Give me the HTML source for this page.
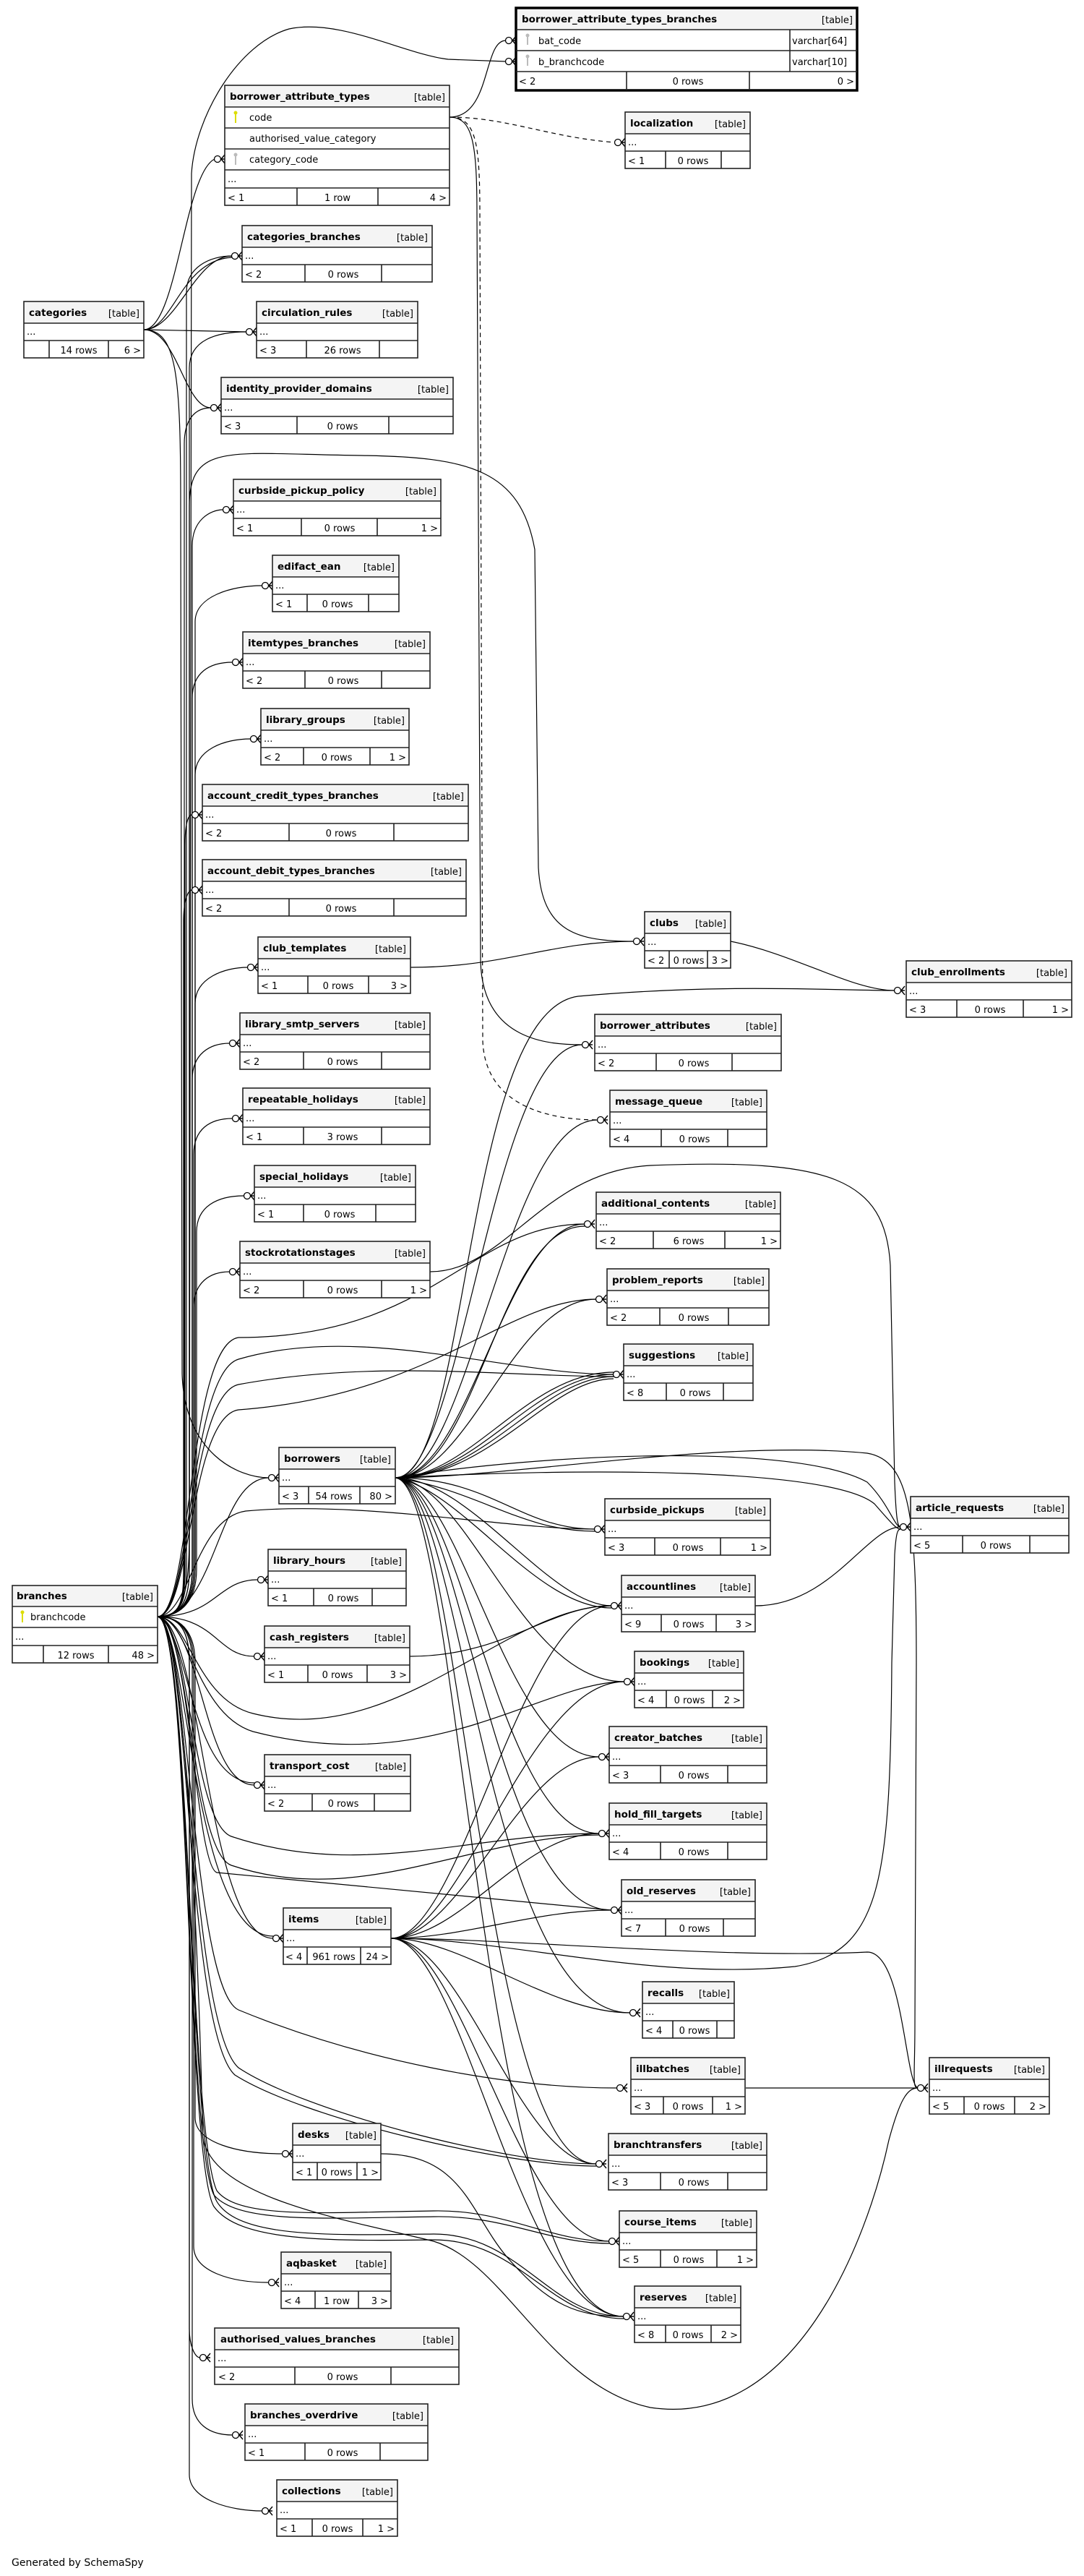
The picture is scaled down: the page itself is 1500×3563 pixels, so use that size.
<!DOCTYPE html>
<html><head><meta charset="utf-8">
<style>
html,body{margin:0;padding:0;background:#fff;}
svg{display:block;}
text{font-family:"DejaVu Sans","Liberation Sans",sans-serif;font-size:13px;fill:#000;}
.n{font-weight:bold;font-size:13.5px;}
.t{text-anchor:end;}
.m{text-anchor:middle;}
.b{fill:#fff;stroke:#222;stroke-width:1.6;}
.h{fill:#f4f4f4;stroke:none;}
.l{stroke:#222;stroke-width:1.6;}
.e{fill:none;stroke:#000;stroke-width:1.2;}
.d{fill:none;stroke:#000;stroke-width:1.2;stroke-dasharray:6,5;}
</style></head><body>
<svg width="1500" height="3563" viewBox="0 0 1500 3563" xmlns="http://www.w3.org/2000/svg">
<defs>
<g id="cf"><circle cx="-10" cy="0" r="4.5" fill="#fff" stroke="#000" stroke-width="1.3"/><path d="M-5 0 L0 -6 M-5 0 L0 0 M-5 0 L0 6" stroke="#000" stroke-width="1.4" fill="none"/></g>
</defs>

<!-- ===== EDGES ===== -->
<path class="e" d="M622 162 C 680 162, 668 56, 700 56"/>
<path class="d" d="M622 162 C 700 162, 760 190, 851 197"/>
<path class="e" d="M622 162 C 655 162, 660 200, 660 300 L 665 1330 C 668 1440, 760 1445, 806 1445"/>
<path class="d" d="M622 162 C 660 162, 664 200, 664 300 L 668 1440 C 672 1540, 780 1549, 827 1549"/>
<path class="e" d="M218 2236 C 250 2236, 262 2215, 262 2170 L 265 240 C 270 160, 330 60, 400 40 C 470 25, 560 75, 620 82 L 700 85"/>
<path class="e" d="M199 456 C 245 456, 255 240, 297 220"/>
<path class="e" d="M199 456 C 245 456, 270 354, 321 354"/>
<path class="e" d="M199 456 C 240 456, 250 360, 321 356"/>
<path class="e" d="M199 456 L 341 459"/>
<path class="e" d="M199 456 C 245 456, 255 564, 292 564"/>
<path class="e" d="M199 456 C 245 456, 250 520, 250 700 L 252 1900 C 255 2010, 330 2044, 372 2044"/>
<path class="e" d="M218 2236 C 250 2236, 258 2215, 258 2170 L 258 404 C 258 370, 290 354, 321 354"/>
<path class="e" d="M218 2236 C 250 2236, 262 2215, 262 2170 L 262 509 C 262 470, 300 459, 341 459"/>
<path class="e" d="M218 2236 C 250 2236, 255 2215, 255 2170 L 255 614 C 255 580, 270 564, 292 564"/>
<path class="e" d="M218 2236 C 250 2236, 266 2215, 266 2170 L 266 755 C 266 720, 290 705, 309 705"/>
<path class="e" d="M218 2236 C 250 2236, 270 2215, 270 2170 L 270 860 C 270 825, 320 810, 363 810"/>
<path class="e" d="M218 2236 C 250 2236, 266 2215, 266 2170 L 266 966 C 266 930, 290 916, 322 916"/>
<path class="e" d="M218 2236 C 250 2236, 270 2215, 270 2170 L 270 1072 C 270 1037, 310 1022, 347 1022"/>
<path class="e" d="M218 2236 C 250 2236, 256 2215, 256 2170 L 256 1170 C 256 1140, 260 1127, 266 1127"/>
<path class="e" d="M218 2236 C 250 2236, 254 2215, 254 2170 L 254 1275 C 254 1245, 260 1231, 266 1231"/>
<path class="e" d="M218 2236 C 250 2236, 270 2215, 270 2170 L 270 1388 C 270 1353, 310 1338, 343 1338"/>
<path class="e" d="M218 2236 C 250 2236, 266 2215, 266 2170 L 266 1493 C 266 1458, 290 1443, 318 1443"/>
<path class="e" d="M218 2236 C 250 2236, 268 2215, 268 2170 L 268 1597 C 268 1562, 290 1547, 322 1547"/>
<path class="e" d="M218 2236 C 250 2236, 272 2215, 272 2170 L 272 1704 C 272 1669, 300 1654, 338 1654"/>
<path class="e" d="M218 2236 C 250 2236, 268 2215, 268 2170 L 268 1809 C 268 1774, 290 1759, 318 1759"/>
<path class="e" d="M218 2236 C 300 2236, 300 2044, 372 2044"/>
<path class="e" d="M218 2236 C 300 2236, 300 2185, 357 2185"/>
<path class="e" d="M218 2236 C 300 2236, 300 2291, 352 2291"/>
<path class="e" d="M218 2236 C 280 2240, 280 2469, 352 2469"/>
<path class="e" d="M218 2236 C 262 2250, 262 2466, 352 2466"/>
<path class="e" d="M218 2236 C 280 2240, 285 2681, 378 2681"/>
<path class="e" d="M218 2236 C 262 2250, 265 2678, 378 2678"/>
<path class="e" d="M218 2236 C 250 2236, 270 2257, 270 2300 L 270 2929 C 270 2964, 330 2979, 391 2979"/>
<path class="e" d="M218 2236 C 250 2236, 268 2257, 268 2300 L 268 3107 C 268 3142, 320 3157, 372 3157"/>
<path class="e" d="M218 2236 C 250 2236, 262 2257, 262 2300 L 262 3221 C 262 3245, 270 3261, 277 3261"/>
<path class="e" d="M218 2236 C 250 2236, 266 2257, 266 2300 L 266 3318 C 266 3353, 290 3368, 322 3368"/>
<path class="e" d="M218 2236 C 250 2236, 262 2257, 262 2300 L 262 3423 C 262 3458, 320 3473, 363 3473"/>
<path class="e" d="M218 2236 C 250 2236, 262 2215, 262 2120 L 262 700 C 262 610, 320 628, 500 630 C 650 632, 720 650, 740 760 L 745 1200 C 750 1290, 800 1302, 877 1302"/>
<path class="e" d="M218 2236 C 265 2236, 262 1900, 330 1880 C 500 1830, 700 1901, 849 1901"/>
<path class="e" d="M218 2236 C 265 2236, 262 1930, 330 1915 C 520 1880, 700 1904, 849 1904"/>
<path class="e" d="M218 2236 C 265 2236, 260 1860, 330 1850 C 600 1850, 650 1693, 809 1693"/>
<path class="e" d="M218 2236 C 265 2236, 262 1960, 330 1950 C 600 1930, 700 1797, 825 1797"/>
<path class="e" d="M218 2236 C 262 2236, 270 2100, 340 2090 C 500 2075, 700 2115, 823 2115"/>
<path class="e" d="M218 2236 C 262 2236, 270 2350, 350 2370 C 550 2420, 700 2221, 846 2221"/>
<path class="e" d="M218 2236 C 262 2236, 270 2370, 350 2395 C 600 2460, 750 2326, 864 2326"/>
<path class="e" d="M218 2236 C 262 2236, 265 2520, 320 2540 C 500 2600, 650 2536, 829 2536"/>
<path class="e" d="M218 2236 C 262 2236, 265 2560, 320 2580 C 500 2640, 650 2540, 829 2538"/>
<path class="e" d="M218 2236 C 262 2236, 270 2580, 300 2590 L 846 2642"/>
<path class="e" d="M595 1759 C 700 1759, 750 1620, 900 1612 C 1150 1602, 1225 1630, 1232 1750 L 1238 2050 C 1240 2100, 1242 2112, 1246 2112"/>
<path class="e" d="M218 2236 C 262 2236, 265 2750, 330 2780 C 500 2850, 700 2888, 854 2888"/>
<path class="e" d="M218 2236 C 262 2236, 262 2800, 330 2860 C 420 2920, 700 2993, 825 2993"/>
<path class="e" d="M218 2236 C 262 2236, 258 2810, 325 2870 C 420 2930, 700 2996, 825 2996"/>
<path class="e" d="M218 2236 C 262 2236, 262 2950, 300 3030 C 330 3070, 450 3060, 600 3058 C 700 3056, 760 3100, 843 3100"/>
<path class="e" d="M218 2236 C 262 2236, 258 2960, 296 3036 C 330 3076, 450 3068, 600 3066 C 700 3064, 760 3103, 843 3103"/>
<path class="e" d="M218 2236 C 262 2236, 262 2980, 300 3045 C 330 3095, 450 3092, 600 3090 C 720 3090, 760 3204, 863 3204"/>
<path class="e" d="M218 2236 C 262 2236, 258 2990, 296 3052 C 330 3100, 450 3100, 600 3098 C 720 3098, 760 3207, 863 3207"/>
<path class="e" d="M218 2236 C 262 2236, 280 2880, 280 2950 C 285 3040, 480 3070, 600 3100 C 700 3130, 760 3300, 900 3330 C 1100 3360, 1200 3100, 1230 2960 C 1245 2905, 1255 2888, 1270 2888"/>
<path class="e" d="M547 2044 C 650 2044, 640 1400, 800 1378 C 1000 1360, 1150 1370, 1238 1370"/>
<path class="e" d="M547 2044 C 640 2044, 680 1445, 806 1445"/>
<path class="e" d="M547 2044 C 650 2044, 700 1549, 827 1549"/>
<path class="e" d="M547 2044 C 650 2044, 700 1693, 809 1693"/>
<path class="e" d="M547 2044 C 660 2044, 690 1696, 809 1696"/>
<path class="e" d="M547 2044 C 650 2044, 710 1797, 825 1797"/>
<path class="e" d="M547 2044 C 650 2044, 730 1898, 849 1898"/>
<path class="e" d="M547 2044 C 660 2044, 740 1901, 849 1901"/>
<path class="e" d="M547 2044 C 670 2044, 750 1904, 849 1904"/>
<path class="e" d="M547 2044 C 680 2044, 760 1907, 849 1907"/>
<path class="e" d="M547 2044 C 680 2044, 720 2115, 823 2115"/>
<path class="e" d="M547 2044 C 660 2060, 720 2118, 823 2118"/>
<path class="e" d="M547 2044 C 750 2010, 1100 1995, 1200 2050 C 1230 2080, 1238 2112, 1246 2112"/>
<path class="e" d="M547 2044 C 800 2030, 1150 2030, 1210 2080 C 1232 2105, 1240 2115, 1246 2115"/>
<path class="e" d="M547 2044 C 650 2044, 760 2221, 846 2221"/>
<path class="e" d="M547 2044 C 640 2060, 740 2224, 846 2224"/>
<path class="e" d="M547 2044 C 650 2050, 720 2326, 864 2326"/>
<path class="e" d="M547 2044 C 640 2050, 700 2430, 829 2430"/>
<path class="e" d="M547 2044 C 640 2050, 690 2536, 829 2536"/>
<path class="e" d="M547 2044 C 640 2050, 680 2642, 846 2642"/>
<path class="e" d="M547 2044 C 640 2050, 670 2784, 872 2784"/>
<path class="e" d="M547 2044 C 640 2050, 665 2993, 825 2993"/>
<path class="e" d="M547 2044 C 640 2050, 660 3204, 863 3204"/>
<path class="e" d="M547 2044 C 700 2044, 1000 1990, 1200 2010 C 1260 2020, 1268 2100, 1268 2300 L 1266 2800 C 1266 2870, 1262 2888, 1270 2888"/>
<path class="e" d="M541 2681 C 640 2681, 720 2221, 846 2221"/>
<path class="e" d="M541 2681 C 640 2681, 730 2326, 864 2326"/>
<path class="e" d="M541 2681 C 640 2681, 720 2430, 829 2430"/>
<path class="e" d="M541 2681 C 640 2681, 720 2536, 829 2536"/>
<path class="e" d="M541 2681 C 640 2681, 740 2642, 846 2642"/>
<path class="e" d="M541 2681 C 640 2681, 760 2784, 872 2784"/>
<path class="e" d="M541 2681 C 640 2681, 720 2993, 825 2993"/>
<path class="e" d="M541 2681 C 640 2681, 720 3100, 843 3100"/>
<path class="e" d="M541 2681 C 640 2681, 720 3204, 863 3204"/>
<path class="e" d="M541 2681 C 700 2681, 900 2740, 1100 2720 C 1220 2700, 1232 2600, 1234 2300 L 1238 2150 C 1240 2120, 1242 2115, 1246 2115"/>
<path class="e" d="M541 2681 C 700 2681, 1000 2710, 1200 2700 C 1250 2700, 1252 2880, 1270 2888"/>
<path class="e" d="M1011 1302 C 1100 1320, 1180 1370, 1238 1370"/>
<path class="e" d="M568 1338 C 700 1338, 760 1302, 877 1302"/>
<path class="e" d="M1045 2221 C 1150 2221, 1200 2112, 1246 2112"/>
<path class="e" d="M567 2291 C 700 2291, 760 2221, 846 2221"/>
<path class="e" d="M1032 2888 L 1270 2888"/>
<path class="e" d="M527 2979 C 640 2979, 650 3060, 700 3120 C 760 3190, 800 3204, 863 3204"/>

<use href="#cf" x="714" y="56"/><use href="#cf" x="714" y="85"/>
<use href="#cf" x="865" y="197"/><use href="#cf" x="311" y="220"/>
<use href="#cf" x="335" y="354"/><use href="#cf" x="355" y="459"/><use href="#cf" x="306" y="564"/>
<use href="#cf" x="323" y="705"/><use href="#cf" x="377" y="810"/><use href="#cf" x="336" y="916"/>
<use href="#cf" x="361" y="1022"/><use href="#cf" x="280" y="1127"/><use href="#cf" x="280" y="1231"/>
<use href="#cf" x="357" y="1338"/><use href="#cf" x="332" y="1443"/><use href="#cf" x="336" y="1547"/>
<use href="#cf" x="352" y="1654"/><use href="#cf" x="332" y="1759"/><use href="#cf" x="386" y="2044"/>
<use href="#cf" x="371" y="2185"/><use href="#cf" x="366" y="2291"/><use href="#cf" x="366" y="2469"/>
<use href="#cf" x="392" y="2681"/><use href="#cf" x="405" y="2979"/><use href="#cf" x="386" y="3157"/>
<use href="#cf" x="291" y="3261"/><use href="#cf" x="336" y="3368"/><use href="#cf" x="377" y="3473"/>
<use href="#cf" x="891" y="1302"/><use href="#cf" x="1252" y="1370"/><use href="#cf" x="820" y="1445"/>
<use href="#cf" x="841" y="1549"/><use href="#cf" x="823" y="1693"/><use href="#cf" x="839" y="1797"/>
<use href="#cf" x="863" y="1901"/><use href="#cf" x="837" y="2115"/><use href="#cf" x="1260" y="2112"/>
<use href="#cf" x="860" y="2221"/><use href="#cf" x="878" y="2326"/><use href="#cf" x="843" y="2430"/>
<use href="#cf" x="843" y="2536"/><use href="#cf" x="860" y="2642"/><use href="#cf" x="886" y="2784"/>
<use href="#cf" x="868" y="2888"/><use href="#cf" x="1284" y="2888"/><use href="#cf" x="839" y="2993"/>
<use href="#cf" x="857" y="3100"/><use href="#cf" x="877" y="3204"/>

<g>
<rect x="714" y="11" width="472" height="114" fill="#fff" stroke="#000" stroke-width="3.5"/>
<rect class="h" x="716" y="13" width="468" height="28"/>
<line class="l" x1="714" y1="41" x2="1186" y2="41"/><line class="l" x1="714" y1="70" x2="1186" y2="70"/><line class="l" x1="714" y1="99" x2="1186" y2="99"/>
<line class="l" x1="1093" y1="41" x2="1093" y2="99"/>
<line class="l" x1="867" y1="99" x2="867" y2="125"/><line class="l" x1="1037" y1="99" x2="1037" y2="125"/>
<text class="n" x="722" y="31">borrower_attribute_types_branches</text><text class="t" x="1180" y="32">[table]</text>
<rect x="729" y="50" width="2" height="12" fill="#bbb"/><circle cx="730" cy="49" r="2.5" fill="#bbb"/>
<rect x="729" y="79" width="2" height="12" fill="#bbb"/><circle cx="730" cy="78" r="2.5" fill="#bbb"/>
<text x="745" y="61">bat_code</text><text x="1096" y="61">varchar[64]</text>
<text x="745" y="90">b_branchcode</text><text x="1096" y="90">varchar[10]</text>
<text x="718" y="117">&lt; 2</text><text class="m" x="952" y="117">0 rows</text><text class="t" x="1182" y="117">0 &gt;</text>
</g>
<g>
<rect class="b" x="311" y="118" width="311" height="166"/>
<rect class="h" x="312" y="119" width="309" height="29"/>
<line class="l" x1="311" y1="148" x2="622" y2="148"/><line class="l" x1="311" y1="177" x2="622" y2="177"/><line class="l" x1="311" y1="206" x2="622" y2="206"/><line class="l" x1="311" y1="235" x2="622" y2="235"/><line class="l" x1="311" y1="260" x2="622" y2="260"/>
<line class="l" x1="411" y1="260" x2="411" y2="284"/><line class="l" x1="523" y1="260" x2="523" y2="284"/>
<text class="n" x="318" y="138">borrower_attribute_types</text><text class="t" x="616" y="139">[table]</text>
<rect x="325" y="157" width="2" height="13" fill="#dd0"/><circle cx="326" cy="156" r="2.5" fill="#dd0"/>
<rect x="325" y="215" width="2" height="13" fill="#bbb"/><circle cx="326" cy="214" r="2.5" fill="#bbb"/>
<text x="345" y="167">code</text><text x="345" y="196">authorised_value_category</text><text x="345" y="225">category_code</text>
<text x="315" y="252">...</text>
<text x="315" y="278">&lt; 1</text><text class="m" x="467" y="278">1 row</text><text class="t" x="618" y="278">4 &gt;</text>
</g>
<g>
<rect class="b" x="17" y="2193" width="201" height="107"/>
<rect class="h" x="18" y="2194" width="199" height="28"/>
<line class="l" x1="17" y1="2222" x2="218" y2="2222"/><line class="l" x1="17" y1="2251" x2="218" y2="2251"/><line class="l" x1="17" y1="2276" x2="218" y2="2276"/>
<line class="l" x1="60" y1="2276" x2="60" y2="2300"/><line class="l" x1="150" y1="2276" x2="150" y2="2300"/>
<text class="n" x="23" y="2212">branches</text><text class="t" x="212" y="2213">[table]</text>
<rect x="30" y="2231" width="2" height="13" fill="#dd0"/><circle cx="31" cy="2230" r="2.5" fill="#dd0"/>
<text x="42" y="2241">branchcode</text><text x="21" y="2268">...</text>
<text class="m" x="105" y="2294">12 rows</text><text class="t" x="214" y="2294">48 &gt;</text>
</g>
<g>
<rect class="b" x="33" y="417" width="166" height="78"/><rect class="h" x="34" y="418" width="164" height="29"/>
<line class="l" x1="33" y1="447" x2="199" y2="447"/><line class="l" x1="33" y1="471" x2="199" y2="471"/>
<line class="l" x1="68" y1="471" x2="68" y2="495"/><line class="l" x1="150" y1="471" x2="150" y2="495"/>
<text class="n" x="40" y="437">categories</text><text class="t" x="193" y="438">[table]</text>
<text x="37" y="463">...</text><text class="m" x="109" y="489">14 rows</text><text class="t" x="195" y="489">6 &gt;</text>
</g>
<g>
<rect class="b" x="865" y="155" width="173" height="78"/><rect class="h" x="866" y="156" width="171" height="29"/>
<line class="l" x1="865" y1="185" x2="1038" y2="185"/><line class="l" x1="865" y1="209" x2="1038" y2="209"/>
<line class="l" x1="921" y1="209" x2="921" y2="233"/><line class="l" x1="998" y1="209" x2="998" y2="233"/>
<text class="n" x="872" y="175">localization</text><text class="t" x="1032" y="176">[table]</text>
<text x="869" y="201">...</text><text x="869" y="227">&lt; 1</text><text class="m" x="959" y="227">0 rows</text>
</g>

<g>
<rect class="b" x="335" y="312" width="263" height="78"/><rect class="h" x="336" y="313" width="261" height="29"/>
<line class="l" x1="335" y1="342" x2="598" y2="342"/><line class="l" x1="335" y1="366" x2="598" y2="366"/>
<line class="l" x1="422" y1="366" x2="422" y2="390"/><line class="l" x1="528" y1="366" x2="528" y2="390"/>
<text class="n" x="342" y="332">categories_branches</text><text class="t" x="592" y="333">[table]</text>
<text x="339" y="358">...</text><text x="339" y="384">&lt; 2</text><text class="m" x="475" y="384">0 rows</text>
</g>
<g>
<rect class="b" x="355" y="417" width="223" height="78"/><rect class="h" x="356" y="418" width="221" height="29"/>
<line class="l" x1="355" y1="447" x2="578" y2="447"/><line class="l" x1="355" y1="471" x2="578" y2="471"/>
<line class="l" x1="424" y1="471" x2="424" y2="495"/><line class="l" x1="525" y1="471" x2="525" y2="495"/>
<text class="n" x="362" y="437">circulation_rules</text><text class="t" x="572" y="438">[table]</text>
<text x="359" y="463">...</text><text x="359" y="489">&lt; 3</text><text class="m" x="474" y="489">26 rows</text>
</g>
<g>
<rect class="b" x="306" y="522" width="321" height="78"/><rect class="h" x="307" y="523" width="319" height="29"/>
<line class="l" x1="306" y1="552" x2="627" y2="552"/><line class="l" x1="306" y1="576" x2="627" y2="576"/>
<line class="l" x1="411" y1="576" x2="411" y2="600"/><line class="l" x1="538" y1="576" x2="538" y2="600"/>
<text class="n" x="313" y="542">identity_provider_domains</text><text class="t" x="621" y="543">[table]</text>
<text x="310" y="568">...</text><text x="310" y="594">&lt; 3</text><text class="m" x="474" y="594">0 rows</text>
</g>
<g>
<rect class="b" x="323" y="663" width="287" height="78"/><rect class="h" x="324" y="664" width="285" height="29"/>
<line class="l" x1="323" y1="693" x2="610" y2="693"/><line class="l" x1="323" y1="717" x2="610" y2="717"/>
<line class="l" x1="417" y1="717" x2="417" y2="741"/><line class="l" x1="522" y1="717" x2="522" y2="741"/>
<text class="n" x="330" y="683">curbside_pickup_policy</text><text class="t" x="604" y="684">[table]</text>
<text x="327" y="709">...</text><text x="327" y="735">&lt; 1</text><text class="m" x="470" y="735">0 rows</text><text class="t" x="606" y="735">1 &gt;</text>
</g>
<g>
<rect class="b" x="377" y="768" width="175" height="78"/><rect class="h" x="378" y="769" width="173" height="29"/>
<line class="l" x1="377" y1="798" x2="552" y2="798"/><line class="l" x1="377" y1="822" x2="552" y2="822"/>
<line class="l" x1="425" y1="822" x2="425" y2="846"/><line class="l" x1="510" y1="822" x2="510" y2="846"/>
<text class="n" x="384" y="788">edifact_ean</text><text class="t" x="546" y="789">[table]</text>
<text x="381" y="814">...</text><text x="381" y="840">&lt; 1</text><text class="m" x="467" y="840">0 rows</text>
</g>
<g>
<rect class="b" x="336" y="874" width="259" height="78"/><rect class="h" x="337" y="875" width="257" height="29"/>
<line class="l" x1="336" y1="904" x2="595" y2="904"/><line class="l" x1="336" y1="928" x2="595" y2="928"/>
<line class="l" x1="422" y1="928" x2="422" y2="952"/><line class="l" x1="528" y1="928" x2="528" y2="952"/>
<text class="n" x="343" y="894">itemtypes_branches</text><text class="t" x="589" y="895">[table]</text>
<text x="340" y="920">...</text><text x="340" y="946">&lt; 2</text><text class="m" x="475" y="946">0 rows</text>
</g>
<g>
<rect class="b" x="361" y="980" width="205" height="78"/><rect class="h" x="362" y="981" width="203" height="29"/>
<line class="l" x1="361" y1="1010" x2="566" y2="1010"/><line class="l" x1="361" y1="1034" x2="566" y2="1034"/>
<line class="l" x1="420" y1="1034" x2="420" y2="1058"/><line class="l" x1="512" y1="1034" x2="512" y2="1058"/>
<text class="n" x="368" y="1000">library_groups</text><text class="t" x="560" y="1001">[table]</text>
<text x="365" y="1026">...</text><text x="365" y="1052">&lt; 2</text><text class="m" x="466" y="1052">0 rows</text><text class="t" x="562" y="1052">1 &gt;</text>
</g>
<g>
<rect class="b" x="280" y="1085" width="368" height="78"/><rect class="h" x="281" y="1086" width="366" height="29"/>
<line class="l" x1="280" y1="1115" x2="648" y2="1115"/><line class="l" x1="280" y1="1139" x2="648" y2="1139"/>
<line class="l" x1="400" y1="1139" x2="400" y2="1163"/><line class="l" x1="545" y1="1139" x2="545" y2="1163"/>
<text class="n" x="287" y="1105">account_credit_types_branches</text><text class="t" x="642" y="1106">[table]</text>
<text x="284" y="1131">...</text><text x="284" y="1157">&lt; 2</text><text class="m" x="472" y="1157">0 rows</text>
</g>
<g>
<rect class="b" x="280" y="1189" width="365" height="78"/><rect class="h" x="281" y="1190" width="363" height="29"/>
<line class="l" x1="280" y1="1219" x2="645" y2="1219"/><line class="l" x1="280" y1="1243" x2="645" y2="1243"/>
<line class="l" x1="400" y1="1243" x2="400" y2="1267"/><line class="l" x1="545" y1="1243" x2="545" y2="1267"/>
<text class="n" x="287" y="1209">account_debit_types_branches</text><text class="t" x="639" y="1210">[table]</text>
<text x="284" y="1235">...</text><text x="284" y="1261">&lt; 2</text><text class="m" x="472" y="1261">0 rows</text>
</g>
<g>
<rect class="b" x="357" y="1296" width="211" height="78"/><rect class="h" x="358" y="1297" width="209" height="29"/>
<line class="l" x1="357" y1="1326" x2="568" y2="1326"/><line class="l" x1="357" y1="1350" x2="568" y2="1350"/>
<line class="l" x1="426" y1="1350" x2="426" y2="1374"/><line class="l" x1="510" y1="1350" x2="510" y2="1374"/>
<text class="n" x="364" y="1316">club_templates</text><text class="t" x="562" y="1317">[table]</text>
<text x="361" y="1342">...</text><text x="361" y="1368">&lt; 1</text><text class="m" x="468" y="1368">0 rows</text><text class="t" x="564" y="1368">3 &gt;</text>
</g>
<g>
<rect class="b" x="332" y="1401" width="263" height="78"/><rect class="h" x="333" y="1402" width="261" height="29"/>
<line class="l" x1="332" y1="1431" x2="595" y2="1431"/><line class="l" x1="332" y1="1455" x2="595" y2="1455"/>
<line class="l" x1="420" y1="1455" x2="420" y2="1479"/><line class="l" x1="528" y1="1455" x2="528" y2="1479"/>
<text class="n" x="339" y="1421">library_smtp_servers</text><text class="t" x="589" y="1422">[table]</text>
<text x="336" y="1447">...</text><text x="336" y="1473">&lt; 2</text><text class="m" x="474" y="1473">0 rows</text>
</g>
<g>
<rect class="b" x="336" y="1505" width="259" height="78"/><rect class="h" x="337" y="1506" width="257" height="29"/>
<line class="l" x1="336" y1="1535" x2="595" y2="1535"/><line class="l" x1="336" y1="1559" x2="595" y2="1559"/>
<line class="l" x1="420" y1="1559" x2="420" y2="1583"/><line class="l" x1="528" y1="1559" x2="528" y2="1583"/>
<text class="n" x="343" y="1525">repeatable_holidays</text><text class="t" x="589" y="1526">[table]</text>
<text x="340" y="1551">...</text><text x="340" y="1577">&lt; 1</text><text class="m" x="474" y="1577">3 rows</text>
</g>
<g>
<rect class="b" x="352" y="1612" width="223" height="78"/><rect class="h" x="353" y="1613" width="221" height="29"/>
<line class="l" x1="352" y1="1642" x2="575" y2="1642"/><line class="l" x1="352" y1="1666" x2="575" y2="1666"/>
<line class="l" x1="420" y1="1666" x2="420" y2="1690"/><line class="l" x1="520" y1="1666" x2="520" y2="1690"/>
<text class="n" x="359" y="1632">special_holidays</text><text class="t" x="569" y="1633">[table]</text>
<text x="356" y="1658">...</text><text x="356" y="1684">&lt; 1</text><text class="m" x="470" y="1684">0 rows</text>
</g>
<g>
<rect class="b" x="332" y="1717" width="263" height="78"/><rect class="h" x="333" y="1718" width="261" height="29"/>
<line class="l" x1="332" y1="1747" x2="595" y2="1747"/><line class="l" x1="332" y1="1771" x2="595" y2="1771"/>
<line class="l" x1="420" y1="1771" x2="420" y2="1795"/><line class="l" x1="528" y1="1771" x2="528" y2="1795"/>
<text class="n" x="339" y="1737">stockrotationstages</text><text class="t" x="589" y="1738">[table]</text>
<text x="336" y="1763">...</text><text x="336" y="1789">&lt; 2</text><text class="m" x="474" y="1789">0 rows</text><text class="t" x="591" y="1789">1 &gt;</text>
</g>
<g>
<rect class="b" x="386" y="2002" width="161" height="78"/><rect class="h" x="387" y="2003" width="159" height="29"/>
<line class="l" x1="386" y1="2032" x2="547" y2="2032"/><line class="l" x1="386" y1="2056" x2="547" y2="2056"/>
<line class="l" x1="427" y1="2056" x2="427" y2="2080"/><line class="l" x1="498" y1="2056" x2="498" y2="2080"/>
<text class="n" x="393" y="2022">borrowers</text><text class="t" x="541" y="2023">[table]</text>
<text x="390" y="2048">...</text><text x="390" y="2074">&lt; 3</text><text class="m" x="462" y="2074">54 rows</text><text class="t" x="543" y="2074">80 &gt;</text>
</g>
<g>
<rect class="b" x="371" y="2143" width="191" height="78"/><rect class="h" x="372" y="2144" width="189" height="29"/>
<line class="l" x1="371" y1="2173" x2="562" y2="2173"/><line class="l" x1="371" y1="2197" x2="562" y2="2197"/>
<line class="l" x1="434" y1="2197" x2="434" y2="2221"/><line class="l" x1="515" y1="2197" x2="515" y2="2221"/>
<text class="n" x="378" y="2163">library_hours</text><text class="t" x="556" y="2164">[table]</text>
<text x="375" y="2189">...</text><text x="375" y="2215">&lt; 1</text><text class="m" x="475" y="2215">0 rows</text>
</g>
<g>
<rect class="b" x="366" y="2249" width="201" height="78"/><rect class="h" x="367" y="2250" width="199" height="29"/>
<line class="l" x1="366" y1="2279" x2="567" y2="2279"/><line class="l" x1="366" y1="2303" x2="567" y2="2303"/>
<line class="l" x1="426" y1="2303" x2="426" y2="2327"/><line class="l" x1="508" y1="2303" x2="508" y2="2327"/>
<text class="n" x="373" y="2269">cash_registers</text><text class="t" x="561" y="2270">[table]</text>
<text x="370" y="2295">...</text><text x="370" y="2321">&lt; 1</text><text class="m" x="467" y="2321">0 rows</text><text class="t" x="563" y="2321">3 &gt;</text>
</g>
<g>
<rect class="b" x="366" y="2427" width="202" height="78"/><rect class="h" x="367" y="2428" width="200" height="29"/>
<line class="l" x1="366" y1="2457" x2="568" y2="2457"/><line class="l" x1="366" y1="2481" x2="568" y2="2481"/>
<line class="l" x1="432" y1="2481" x2="432" y2="2505"/><line class="l" x1="518" y1="2481" x2="518" y2="2505"/>
<text class="n" x="373" y="2447">transport_cost</text><text class="t" x="562" y="2448">[table]</text>
<text x="370" y="2473">...</text><text x="370" y="2499">&lt; 2</text><text class="m" x="475" y="2499">0 rows</text>
</g>
<g>
<rect class="b" x="392" y="2639" width="149" height="78"/><rect class="h" x="393" y="2640" width="147" height="29"/>
<line class="l" x1="392" y1="2669" x2="541" y2="2669"/><line class="l" x1="392" y1="2693" x2="541" y2="2693"/>
<line class="l" x1="425" y1="2693" x2="425" y2="2717"/><line class="l" x1="499" y1="2693" x2="499" y2="2717"/>
<text class="n" x="399" y="2659">items</text><text class="t" x="535" y="2660">[table]</text>
<text x="396" y="2685">...</text><text x="395" y="2711">&lt; 4</text><text class="m" x="462" y="2711">961 rows</text><text class="t" x="538" y="2711">24 &gt;</text>
</g>
<g>
<rect class="b" x="405" y="2937" width="122" height="78"/><rect class="h" x="406" y="2938" width="120" height="29"/>
<line class="l" x1="405" y1="2967" x2="527" y2="2967"/><line class="l" x1="405" y1="2991" x2="527" y2="2991"/>
<line class="l" x1="439" y1="2991" x2="439" y2="3015"/><line class="l" x1="494" y1="2991" x2="494" y2="3015"/>
<text class="n" x="412" y="2957">desks</text><text class="t" x="521" y="2958">[table]</text>
<text x="409" y="2983">...</text><text x="409" y="3009">&lt; 1</text><text class="m" x="466" y="3009">0 rows</text><text class="t" x="524" y="3009">1 &gt;</text>
</g>
<g>
<rect class="b" x="389" y="3115" width="152" height="78"/><rect class="h" x="390" y="3116" width="150" height="29"/>
<line class="l" x1="389" y1="3145" x2="541" y2="3145"/><line class="l" x1="389" y1="3169" x2="541" y2="3169"/>
<line class="l" x1="436" y1="3169" x2="436" y2="3193"/><line class="l" x1="496" y1="3169" x2="496" y2="3193"/>
<text class="n" x="396" y="3135">aqbasket</text><text class="t" x="535" y="3136">[table]</text>
<text x="393" y="3161">...</text><text x="393" y="3187">&lt; 4</text><text class="m" x="466" y="3187">1 row</text><text class="t" x="537" y="3187">3 &gt;</text>
</g>
<g>
<rect class="b" x="297" y="3220" width="338" height="78"/><rect class="h" x="298" y="3221" width="336" height="29"/>
<line class="l" x1="297" y1="3250" x2="635" y2="3250"/><line class="l" x1="297" y1="3274" x2="635" y2="3274"/>
<line class="l" x1="408" y1="3274" x2="408" y2="3298"/><line class="l" x1="541" y1="3274" x2="541" y2="3298"/>
<text class="n" x="305" y="3240">authorised_values_branches</text><text class="t" x="628" y="3241">[table]</text>
<text x="301" y="3266">...</text><text x="302" y="3292">&lt; 2</text><text class="m" x="474" y="3292">0 rows</text>
</g>
<g>
<rect class="b" x="339" y="3325" width="253" height="78"/><rect class="h" x="340" y="3326" width="251" height="29"/>
<line class="l" x1="339" y1="3355" x2="592" y2="3355"/><line class="l" x1="339" y1="3379" x2="592" y2="3379"/>
<line class="l" x1="422" y1="3379" x2="422" y2="3403"/><line class="l" x1="526" y1="3379" x2="526" y2="3403"/>
<text class="n" x="346" y="3345">branches_overdrive</text><text class="t" x="586" y="3346">[table]</text>
<text x="343" y="3371">...</text><text x="343" y="3397">&lt; 1</text><text class="m" x="474" y="3397">0 rows</text>
</g>
<g>
<rect class="b" x="383" y="3430" width="167" height="78"/><rect class="h" x="384" y="3431" width="165" height="29"/>
<line class="l" x1="383" y1="3460" x2="550" y2="3460"/><line class="l" x1="383" y1="3484" x2="550" y2="3484"/>
<line class="l" x1="432" y1="3484" x2="432" y2="3508"/><line class="l" x1="502" y1="3484" x2="502" y2="3508"/>
<text class="n" x="390" y="3450">collections</text><text class="t" x="544" y="3451">[table]</text>
<text x="387" y="3476">...</text><text x="387" y="3502">&lt; 1</text><text class="m" x="467" y="3502">0 rows</text><text class="t" x="546" y="3502">1 &gt;</text>
</g>

<g>
<rect class="b" x="892" y="1261" width="119" height="78"/><rect class="h" x="893" y="1262" width="117" height="29"/>
<line class="l" x1="892" y1="1291" x2="1011" y2="1291"/><line class="l" x1="892" y1="1315" x2="1011" y2="1315"/>
<line class="l" x1="926" y1="1315" x2="926" y2="1339"/><line class="l" x1="979" y1="1315" x2="979" y2="1339"/>
<text class="n" x="899" y="1281">clubs</text><text class="t" x="1005" y="1282">[table]</text>
<text x="896" y="1307">...</text><text x="896" y="1333">&lt; 2</text><text class="m" x="953" y="1333">0 rows</text><text class="t" x="1008" y="1333">3 &gt;</text>
</g>
<g>
<rect class="b" x="1254" y="1329" width="229" height="78"/><rect class="h" x="1255" y="1330" width="227" height="29"/>
<line class="l" x1="1254" y1="1359" x2="1483" y2="1359"/><line class="l" x1="1254" y1="1383" x2="1483" y2="1383"/>
<line class="l" x1="1324" y1="1383" x2="1324" y2="1407"/><line class="l" x1="1416" y1="1383" x2="1416" y2="1407"/>
<text class="n" x="1261" y="1349">club_enrollments</text><text class="t" x="1477" y="1350">[table]</text>
<text x="1258" y="1375">...</text><text x="1258" y="1401">&lt; 3</text><text class="m" x="1370" y="1401">0 rows</text><text class="t" x="1479" y="1401">1 &gt;</text>
</g>
<g>
<rect class="b" x="823" y="1403" width="258" height="78"/><rect class="h" x="824" y="1404" width="256" height="29"/>
<line class="l" x1="823" y1="1433" x2="1081" y2="1433"/><line class="l" x1="823" y1="1457" x2="1081" y2="1457"/>
<line class="l" x1="908" y1="1457" x2="908" y2="1481"/><line class="l" x1="1013" y1="1457" x2="1013" y2="1481"/>
<text class="n" x="830" y="1423">borrower_attributes</text><text class="t" x="1075" y="1424">[table]</text>
<text x="827" y="1449">...</text><text x="827" y="1475">&lt; 2</text><text class="m" x="960" y="1475">0 rows</text>
</g>
<g>
<rect class="b" x="844" y="1508" width="217" height="78"/><rect class="h" x="845" y="1509" width="215" height="29"/>
<line class="l" x1="844" y1="1538" x2="1061" y2="1538"/><line class="l" x1="844" y1="1562" x2="1061" y2="1562"/>
<line class="l" x1="915" y1="1562" x2="915" y2="1586"/><line class="l" x1="1007" y1="1562" x2="1007" y2="1586"/>
<text class="n" x="851" y="1528">message_queue</text><text class="t" x="1055" y="1529">[table]</text>
<text x="848" y="1554">...</text><text x="848" y="1580">&lt; 4</text><text class="m" x="961" y="1580">0 rows</text>
</g>
<g>
<rect class="b" x="825" y="1649" width="255" height="78"/><rect class="h" x="826" y="1650" width="253" height="29"/>
<line class="l" x1="825" y1="1679" x2="1080" y2="1679"/><line class="l" x1="825" y1="1703" x2="1080" y2="1703"/>
<line class="l" x1="904" y1="1703" x2="904" y2="1727"/><line class="l" x1="1003" y1="1703" x2="1003" y2="1727"/>
<text class="n" x="832" y="1669">additional_contents</text><text class="t" x="1074" y="1670">[table]</text>
<text x="829" y="1695">...</text><text x="829" y="1721">&lt; 2</text><text class="m" x="953" y="1721">6 rows</text><text class="t" x="1076" y="1721">1 &gt;</text>
</g>
<g>
<rect class="b" x="840" y="1755" width="224" height="78"/><rect class="h" x="841" y="1756" width="222" height="29"/>
<line class="l" x1="840" y1="1785" x2="1064" y2="1785"/><line class="l" x1="840" y1="1809" x2="1064" y2="1809"/>
<line class="l" x1="913" y1="1809" x2="913" y2="1833"/><line class="l" x1="1008" y1="1809" x2="1008" y2="1833"/>
<text class="n" x="847" y="1775">problem_reports</text><text class="t" x="1058" y="1776">[table]</text>
<text x="844" y="1801">...</text><text x="844" y="1827">&lt; 2</text><text class="m" x="960" y="1827">0 rows</text>
</g>
<g>
<rect class="b" x="863" y="1859" width="179" height="78"/><rect class="h" x="864" y="1860" width="177" height="29"/>
<line class="l" x1="863" y1="1889" x2="1042" y2="1889"/><line class="l" x1="863" y1="1913" x2="1042" y2="1913"/>
<line class="l" x1="922" y1="1913" x2="922" y2="1937"/><line class="l" x1="1001" y1="1913" x2="1001" y2="1937"/>
<text class="n" x="870" y="1879">suggestions</text><text class="t" x="1036" y="1880">[table]</text>
<text x="867" y="1905">...</text><text x="867" y="1931">&lt; 8</text><text class="m" x="962" y="1931">0 rows</text>
</g>
<g>
<rect class="b" x="837" y="2073" width="229" height="78"/><rect class="h" x="838" y="2074" width="227" height="29"/>
<line class="l" x1="837" y1="2103" x2="1066" y2="2103"/><line class="l" x1="837" y1="2127" x2="1066" y2="2127"/>
<line class="l" x1="906" y1="2127" x2="906" y2="2151"/><line class="l" x1="997" y1="2127" x2="997" y2="2151"/>
<text class="n" x="844" y="2093">curbside_pickups</text><text class="t" x="1060" y="2094">[table]</text>
<text x="841" y="2119">...</text><text x="841" y="2145">&lt; 3</text><text class="m" x="952" y="2145">0 rows</text><text class="t" x="1062" y="2145">1 &gt;</text>
</g>
<g>
<rect class="b" x="1260" y="2070" width="219" height="78"/><rect class="h" x="1261" y="2071" width="217" height="29"/>
<line class="l" x1="1260" y1="2100" x2="1479" y2="2100"/><line class="l" x1="1260" y1="2124" x2="1479" y2="2124"/>
<line class="l" x1="1332" y1="2124" x2="1332" y2="2148"/><line class="l" x1="1425" y1="2124" x2="1425" y2="2148"/>
<text class="n" x="1267" y="2090">article_requests</text><text class="t" x="1473" y="2091">[table]</text>
<text x="1264" y="2116">...</text><text x="1264" y="2142">&lt; 5</text><text class="m" x="1378" y="2142">0 rows</text>
</g>
<g>
<rect class="b" x="860" y="2179" width="185" height="78"/><rect class="h" x="861" y="2180" width="183" height="29"/>
<line class="l" x1="860" y1="2209" x2="1045" y2="2209"/><line class="l" x1="860" y1="2233" x2="1045" y2="2233"/>
<line class="l" x1="915" y1="2233" x2="915" y2="2257"/><line class="l" x1="991" y1="2233" x2="991" y2="2257"/>
<text class="n" x="867" y="2199">accountlines</text><text class="t" x="1039" y="2200">[table]</text>
<text x="864" y="2225">...</text><text x="864" y="2251">&lt; 9</text><text class="m" x="953" y="2251">0 rows</text><text class="t" x="1041" y="2251">3 &gt;</text>
</g>
<g>
<rect class="b" x="878" y="2284" width="151" height="78"/><rect class="h" x="879" y="2285" width="149" height="29"/>
<line class="l" x1="878" y1="2314" x2="1029" y2="2314"/><line class="l" x1="878" y1="2338" x2="1029" y2="2338"/>
<line class="l" x1="922" y1="2338" x2="922" y2="2362"/><line class="l" x1="986" y1="2338" x2="986" y2="2362"/>
<text class="n" x="885" y="2304">bookings</text><text class="t" x="1023" y="2305">[table]</text>
<text x="882" y="2330">...</text><text x="882" y="2356">&lt; 4</text><text class="m" x="954" y="2356">0 rows</text><text class="t" x="1025" y="2356">2 &gt;</text>
</g>
<g>
<rect class="b" x="843" y="2388" width="218" height="78"/><rect class="h" x="844" y="2389" width="216" height="29"/>
<line class="l" x1="843" y1="2418" x2="1061" y2="2418"/><line class="l" x1="843" y1="2442" x2="1061" y2="2442"/>
<line class="l" x1="914" y1="2442" x2="914" y2="2466"/><line class="l" x1="1007" y1="2442" x2="1007" y2="2466"/>
<text class="n" x="850" y="2408">creator_batches</text><text class="t" x="1055" y="2409">[table]</text>
<text x="847" y="2434">...</text><text x="847" y="2460">&lt; 3</text><text class="m" x="960" y="2460">0 rows</text>
</g>
<g>
<rect class="b" x="843" y="2494" width="218" height="78"/><rect class="h" x="844" y="2495" width="216" height="29"/>
<line class="l" x1="843" y1="2524" x2="1061" y2="2524"/><line class="l" x1="843" y1="2548" x2="1061" y2="2548"/>
<line class="l" x1="914" y1="2548" x2="914" y2="2572"/><line class="l" x1="1007" y1="2548" x2="1007" y2="2572"/>
<text class="n" x="850" y="2514">hold_fill_targets</text><text class="t" x="1055" y="2515">[table]</text>
<text x="847" y="2540">...</text><text x="847" y="2566">&lt; 4</text><text class="m" x="960" y="2566">0 rows</text>
</g>
<g>
<rect class="b" x="860" y="2600" width="185" height="78"/><rect class="h" x="861" y="2601" width="183" height="29"/>
<line class="l" x1="860" y1="2630" x2="1045" y2="2630"/><line class="l" x1="860" y1="2654" x2="1045" y2="2654"/>
<line class="l" x1="921" y1="2654" x2="921" y2="2678"/><line class="l" x1="1001" y1="2654" x2="1001" y2="2678"/>
<text class="n" x="867" y="2620">old_reserves</text><text class="t" x="1039" y="2621">[table]</text>
<text x="864" y="2646">...</text><text x="864" y="2672">&lt; 7</text><text class="m" x="961" y="2672">0 rows</text>
</g>
<g>
<rect class="b" x="889" y="2741" width="127" height="78"/><rect class="h" x="890" y="2742" width="125" height="29"/>
<line class="l" x1="889" y1="2771" x2="1016" y2="2771"/><line class="l" x1="889" y1="2795" x2="1016" y2="2795"/>
<line class="l" x1="931" y1="2795" x2="931" y2="2819"/><line class="l" x1="992" y1="2795" x2="992" y2="2819"/>
<text class="n" x="896" y="2761">recalls</text><text class="t" x="1010" y="2762">[table]</text>
<text x="893" y="2787">...</text><text x="893" y="2813">&lt; 4</text><text class="m" x="961" y="2813">0 rows</text>
</g>
<g>
<rect class="b" x="873" y="2846" width="158" height="78"/><rect class="h" x="874" y="2847" width="156" height="29"/>
<line class="l" x1="873" y1="2876" x2="1031" y2="2876"/><line class="l" x1="873" y1="2900" x2="1031" y2="2900"/>
<line class="l" x1="918" y1="2900" x2="918" y2="2924"/><line class="l" x1="986" y1="2900" x2="986" y2="2924"/>
<text class="n" x="880" y="2866">illbatches</text><text class="t" x="1025" y="2867">[table]</text>
<text x="877" y="2892">...</text><text x="877" y="2918">&lt; 3</text><text class="m" x="952" y="2918">0 rows</text><text class="t" x="1027" y="2918">1 &gt;</text>
</g>
<g>
<rect class="b" x="1286" y="2846" width="166" height="78"/><rect class="h" x="1287" y="2847" width="164" height="29"/>
<line class="l" x1="1286" y1="2876" x2="1452" y2="2876"/><line class="l" x1="1286" y1="2900" x2="1452" y2="2900"/>
<line class="l" x1="1334" y1="2900" x2="1334" y2="2924"/><line class="l" x1="1404" y1="2900" x2="1404" y2="2924"/>
<text class="n" x="1293" y="2866">illrequests</text><text class="t" x="1446" y="2867">[table]</text>
<text x="1290" y="2892">...</text><text x="1290" y="2918">&lt; 5</text><text class="m" x="1369" y="2918">0 rows</text><text class="t" x="1448" y="2918">2 &gt;</text>
</g>
<g>
<rect class="b" x="842" y="2951" width="219" height="78"/><rect class="h" x="843" y="2952" width="217" height="29"/>
<line class="l" x1="842" y1="2981" x2="1061" y2="2981"/><line class="l" x1="842" y1="3005" x2="1061" y2="3005"/>
<line class="l" x1="914" y1="3005" x2="914" y2="3029"/><line class="l" x1="1007" y1="3005" x2="1007" y2="3029"/>
<text class="n" x="849" y="2971">branchtransfers</text><text class="t" x="1055" y="2972">[table]</text>
<text x="846" y="2997">...</text><text x="846" y="3023">&lt; 3</text><text class="m" x="960" y="3023">0 rows</text>
</g>
<g>
<rect class="b" x="857" y="3058" width="190" height="78"/><rect class="h" x="858" y="3059" width="188" height="29"/>
<line class="l" x1="857" y1="3088" x2="1047" y2="3088"/><line class="l" x1="857" y1="3112" x2="1047" y2="3112"/>
<line class="l" x1="914" y1="3112" x2="914" y2="3136"/><line class="l" x1="992" y1="3112" x2="992" y2="3136"/>
<text class="n" x="864" y="3078">course_items</text><text class="t" x="1041" y="3079">[table]</text>
<text x="861" y="3104">...</text><text x="861" y="3130">&lt; 5</text><text class="m" x="953" y="3130">0 rows</text><text class="t" x="1043" y="3130">1 &gt;</text>
</g>
<g>
<rect class="b" x="878" y="3162" width="147" height="78"/><rect class="h" x="879" y="3163" width="145" height="29"/>
<line class="l" x1="878" y1="3192" x2="1025" y2="3192"/><line class="l" x1="878" y1="3216" x2="1025" y2="3216"/>
<line class="l" x1="921" y1="3216" x2="921" y2="3240"/><line class="l" x1="984" y1="3216" x2="984" y2="3240"/>
<text class="n" x="885" y="3182">reserves</text><text class="t" x="1019" y="3183">[table]</text>
<text x="882" y="3208">...</text><text x="882" y="3234">&lt; 8</text><text class="m" x="952" y="3234">0 rows</text><text class="t" x="1021" y="3234">2 &gt;</text>
</g>

<text x="16" y="3549" style="font-size:14px">Generated by SchemaSpy</text>
</svg>
</body></html>
